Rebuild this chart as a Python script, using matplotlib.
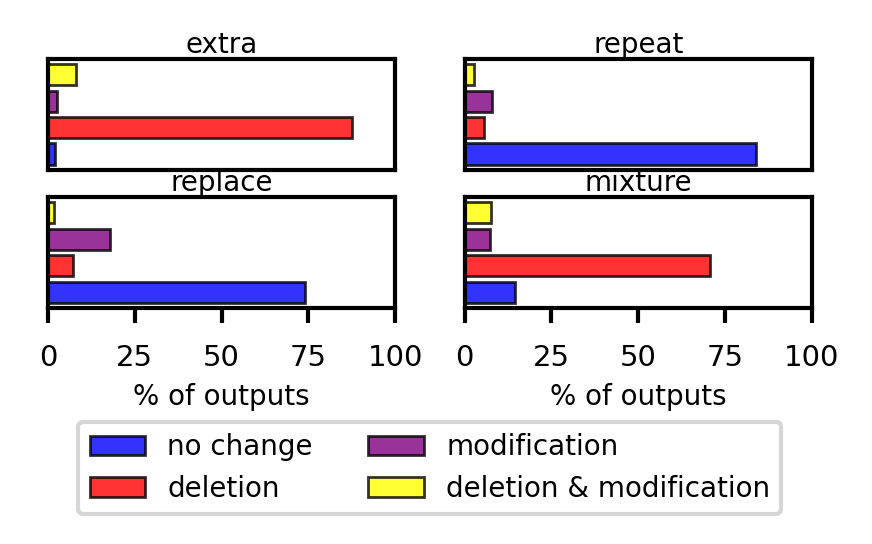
import matplotlib
matplotlib.use("Agg")
import matplotlib.pyplot as plt
import numpy as np

panels = ["extra", "repeat", "replace", "mixture"]
categories = ["no change", "deletion", "modification", "deletion & modification"]
colors = ["blue", "red", "purple", "yellow"]

# % of outputs per panel, order: no change, deletion, modification, deletion & modification
extra = [2.0, 87.7, 2.5, 8.2]
repeat = [84.0, 5.7, 8.0, 2.6]
replace = [74.0, 7.1, 18.0, 1.8]
mixture = [14.6, 70.7, 7.2, 7.7]
values = [extra, repeat, replace, mixture]

ticks = [0, 25, 50, 75, 100]

plt.rcParams["font.size"] = 10

fig, axes = plt.subplots(2, 2, figsize=(4.36, 2.72), dpi=200, sharex=True)
fig.subplots_adjust(left=0.055, right=0.931, top=0.8915, bottom=0.434,
                    wspace=0.2, hspace=0.25)

ypos = np.arange(len(categories))
for ax, name, vals in zip(axes.flat, panels, values):
    ax.barh(ypos, vals, height=0.8, color=colors, alpha=0.8,
            edgecolor="black", linewidth=1)
    ax.set_title(name, pad=2, fontsize=10)
    ax.set_xlim(0, 100)
    ax.set_yticks([])
    for s in ax.spines.values():
        s.set_linewidth(1.5)
    ax.tick_params(axis="x", length=5.5, width=1.5, pad=7.5, labelsize=10.5)
    ax.set_xticks(ticks)

for ax in axes[1]:
    ax.set_xlabel("% of outputs", labelpad=4, fontsize=10)
for ax in axes[0]:
    ax.tick_params(axis="x", length=0)

handles = [plt.Rectangle((0, 0), 1, 1, facecolor=c, edgecolor="black", alpha=0.8, linewidth=1)
           for c in colors]
leg = fig.legend(handles, categories, loc="upper center", bbox_to_anchor=(0.493, 0.25),
                 ncol=2, fontsize=10, fancybox=True)
leg.get_frame().set_linewidth(1.5)

fig.savefig("out.png", dpi=200)
